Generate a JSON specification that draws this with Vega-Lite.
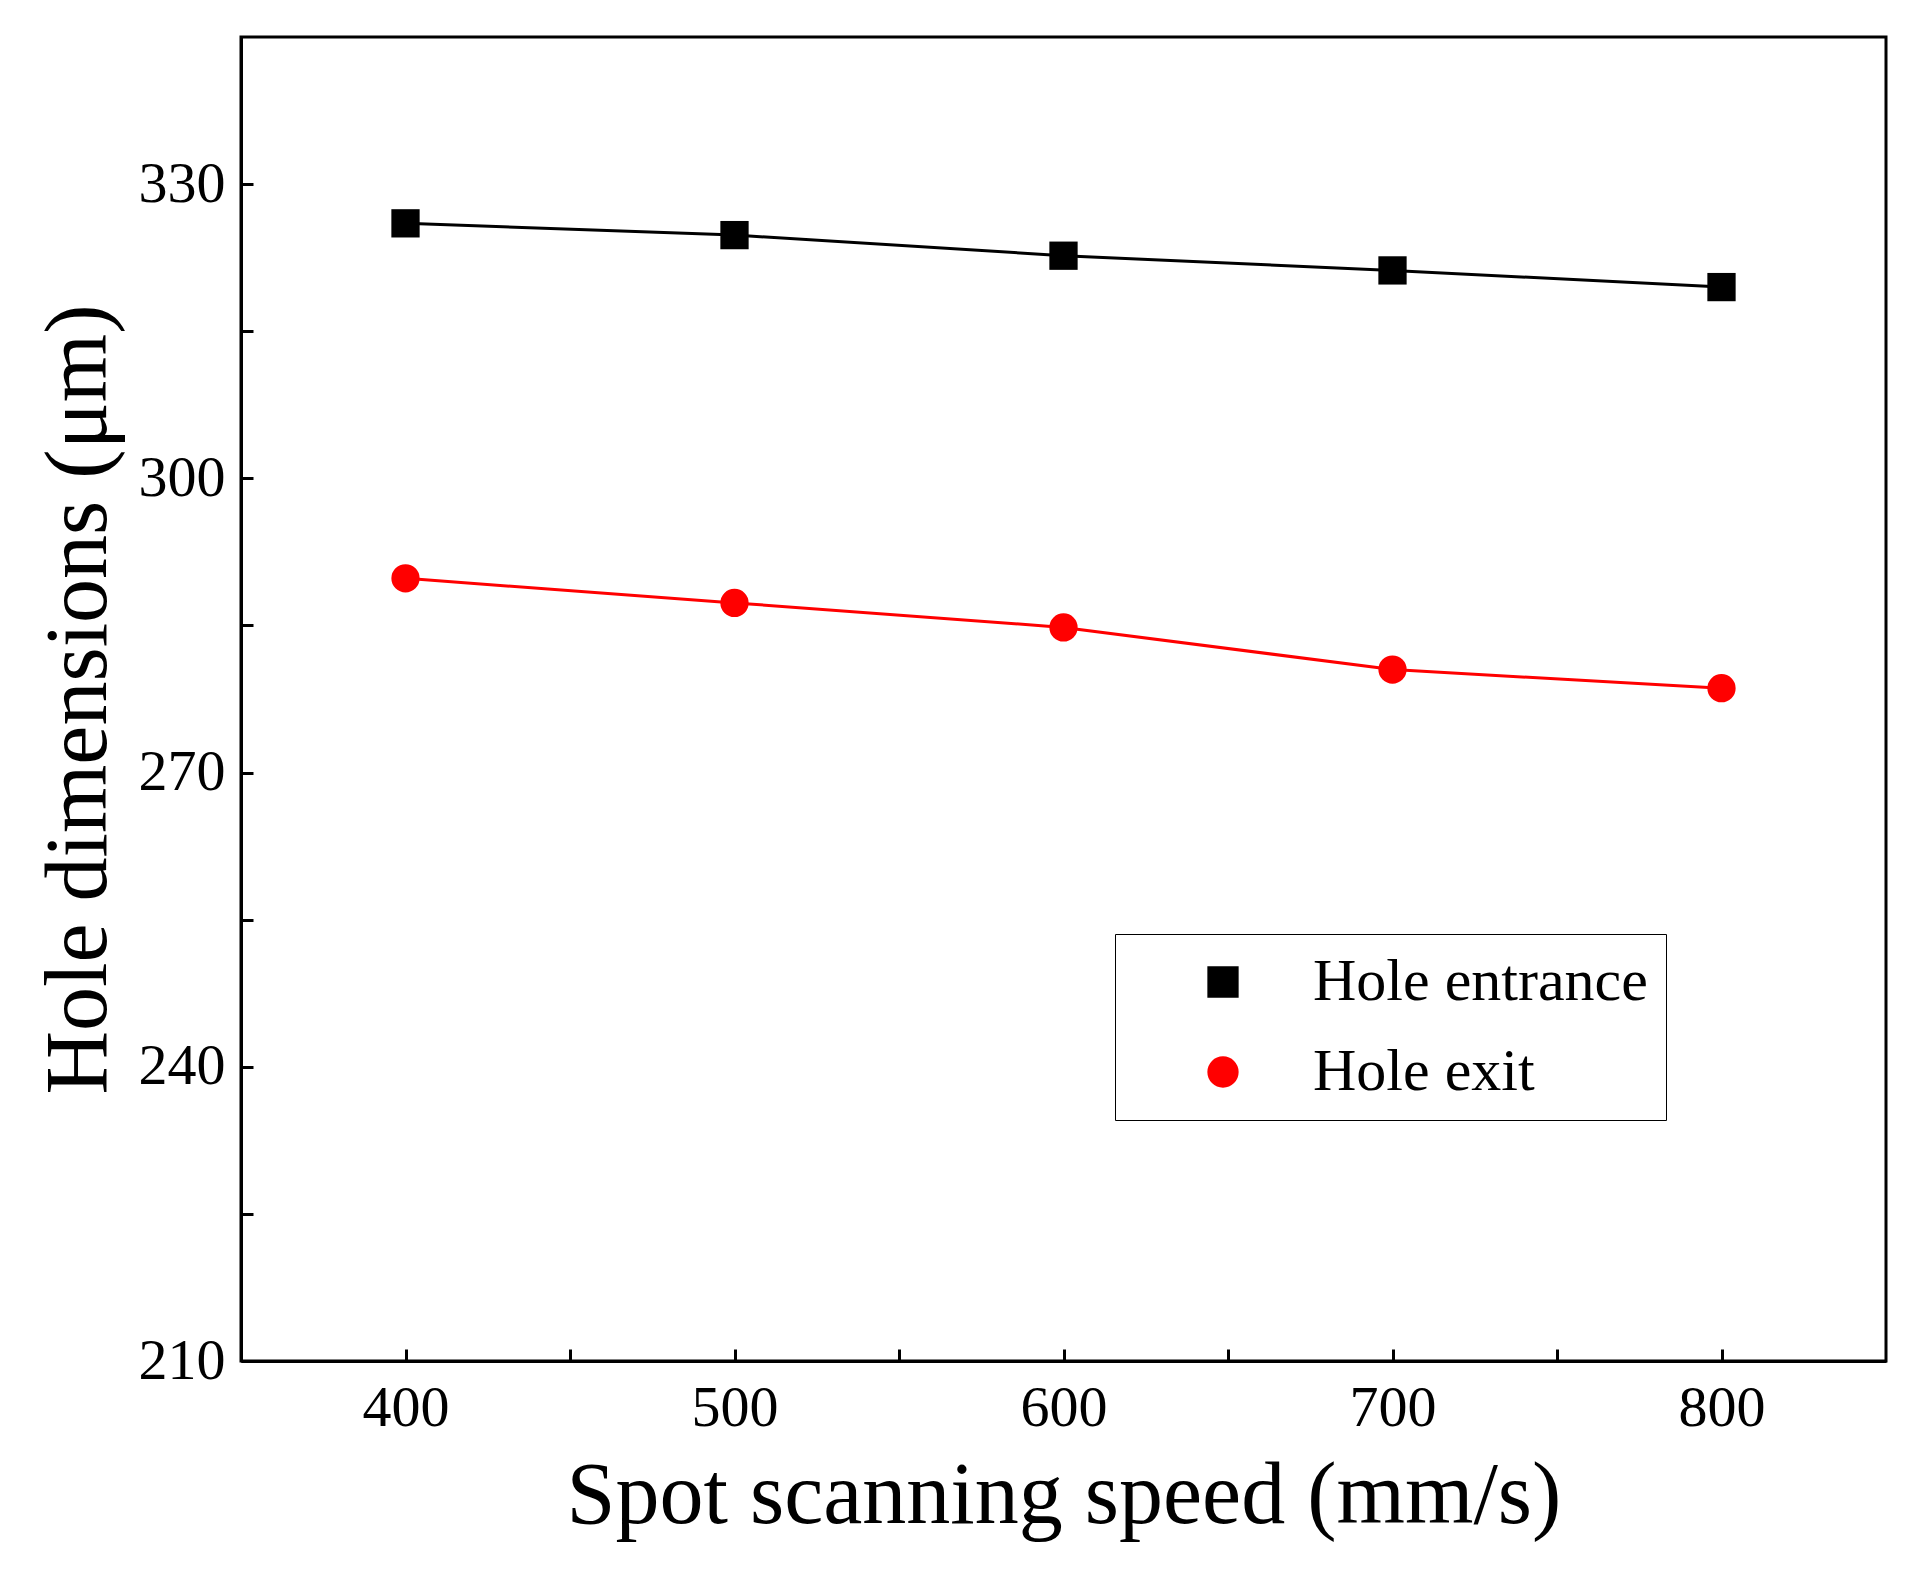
{
"$schema":"https://vega.github.io/schema/vega-lite/v6.json",
"width":1645,"height":1324,
"autosize":{"type":"none"},
"padding":{"left":241,"top":37,"right":22,"bottom":218},
"background":"white",
"config":{"view":{"stroke":"black","strokeWidth":3},"font":"Liberation Serif"},
"data":{"values":[
{"speed":400,"value":326.0,"series":"Hole entrance"},
{"speed":500,"value":324.8,"series":"Hole entrance"},
{"speed":600,"value":322.7,"series":"Hole entrance"},
{"speed":700,"value":321.2,"series":"Hole entrance"},
{"speed":800,"value":319.5,"series":"Hole entrance"},
{"speed":400,"value":289.8,"series":"Hole exit"},
{"speed":500,"value":287.3,"series":"Hole exit"},
{"speed":600,"value":284.8,"series":"Hole exit"},
{"speed":700,"value":280.5,"series":"Hole exit"},
{"speed":800,"value":278.6,"series":"Hole exit"}
]},
"encoding":{
"x":{"field":"speed","type":"quantitative","scale":{"domain":[350,850],"nice":false,"zero":false},
 "axis":{"title":"Spot scanning speed (mm/s)","values":[400,450,500,550,600,650,700,750,800],
 "labelExpr":"datum.value % 100 == 0 ? datum.label : ''","grid":false,"tickSize":-12,"tickWidth":3,"tickColor":"black","domainColor":"black","domainWidth":3,
 "labelFontSize":58,"labelPadding":30,"labelColor":"black","titleFontSize":88,"titleFontWeight":"normal","titlePadding":15,"titleColor":"black"}},
"y":{"field":"value","type":"quantitative","scale":{"domain":[210,345],"nice":false,"zero":false},
 "axis":{"title":"Hole dimensions (μm)","values":[210,225,240,255,270,285,300,315,330],
 "labelExpr":"datum.value % 30 == 0 ? datum.label : ''","grid":false,"tickSize":-12,"tickWidth":3,"tickColor":"black","domainColor":"black","domainWidth":3,
 "labelFontSize":58,"labelPadding":28,"labelColor":"black","titleFontSize":88,"titleFontWeight":"normal","titlePadding":15,"titleColor":"black"}},
"color":{"field":"series","type":"nominal","scale":{"domain":["Hole entrance","Hole exit"],"range":["black","#ff0000"]},
 "legend":{"title":null,"orient":"none","legendX":874,"legendY":897,"labelFontSize":60,"labelLimit":0,"labelColor":"black","symbolSize":800,"symbolStrokeWidth":3,"rowPadding":30,"padding":18,"strokeColor":"black","fillColor":"white","labelOffset":60,"symbolOffset":60}},
"shape":{"field":"series","type":"nominal","scale":{"domain":["Hole entrance","Hole exit"],"range":["square","circle"]},"legend":null}
},
"layer":[
{"mark":{"type":"line","strokeWidth":3}},
{"mark":{"type":"point","filled":true,"size":800,"opacity":1}}
]
}
